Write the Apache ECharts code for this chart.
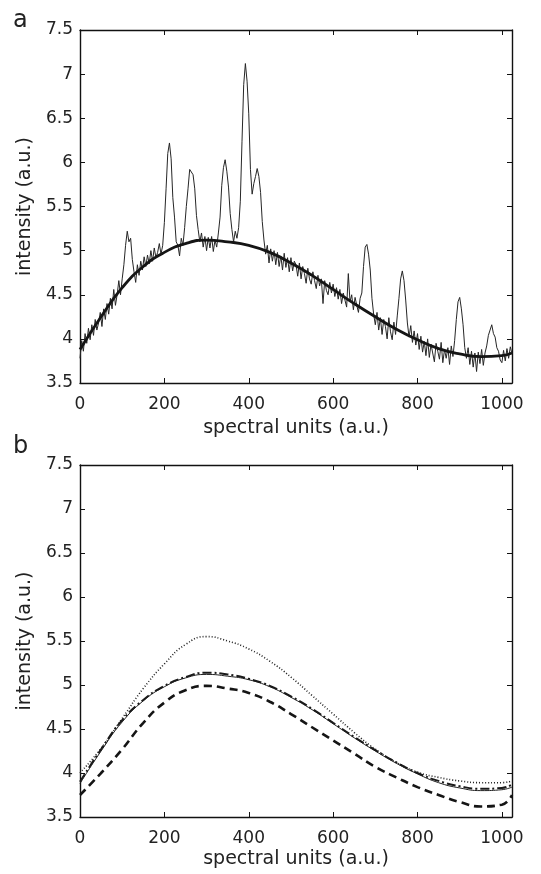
<!DOCTYPE html>
<html>
<head>
<meta charset="utf-8">
<script src="https://cdn.jsdelivr.net/npm/echarts@6.0.0/dist/echarts.min.js"></script>
<style>
  html, body { margin: 0; padding: 0; background: #ffffff; }
  #chart { width: 541px; height: 874px; }
</style>
</head>
<body>
<div id="chart"></div>
<script>
// ---------------- data ----------------
// panel a: measured spectrum, sampled every 4 spectral units (0 .. 1024)
const spectrumStep = 4;
const spectrumA = [
  3.78,3.98,3.86,4.06,3.95,4.12,3.99,4.16,4.04,4.22,4.10,4.18,4.30,4.14,4.34,4.22,4.40,4.28,4.46,4.34,4.56,4.38,4.50,4.66,4.50,
  4.68,4.84,5.06,5.22,5.10,5.14,4.90,4.76,4.64,4.84,4.72,4.88,4.78,4.93,4.82,4.95,4.85,5.00,4.88,5.03,4.92,4.98,5.08,4.96,5.06,
  5.32,5.70,6.10,6.22,6.04,5.60,5.38,5.10,5.06,4.94,5.14,5.06,5.26,5.50,5.70,5.92,5.94,5.86,5.70,5.40,5.24,5.10,5.20,5.04,5.16,
  5.00,5.15,5.03,5.16,4.99,5.12,5.04,5.20,5.38,5.74,5.94,6.03,5.90,5.72,5.42,5.24,5.10,5.22,5.14,5.26,5.56,6.24,6.88,7.12,6.92,
  6.55,5.92,5.64,5.76,5.84,5.93,5.84,5.66,5.33,5.12,4.96,5.06,4.86,5.02,4.88,5.00,4.84,4.98,4.82,4.94,4.78,4.97,4.81,4.92,4.76,
  4.92,4.77,4.88,4.84,4.71,4.86,4.68,4.82,4.74,4.63,4.80,4.68,4.62,4.76,4.66,4.57,4.72,4.60,4.68,4.40,4.66,4.55,4.50,4.64,4.52,
  4.62,4.48,4.58,4.45,4.56,4.40,4.52,4.44,4.36,4.74,4.42,4.50,4.33,4.47,4.38,4.30,4.46,4.52,4.82,5.04,5.07,4.96,4.78,4.46,4.28,
  4.16,4.30,4.10,4.24,4.05,4.22,4.14,4.00,4.24,4.08,3.99,4.19,4.05,4.26,4.46,4.68,4.77,4.66,4.44,4.18,4.02,4.15,3.96,4.09,3.93,
  4.06,3.88,4.03,3.85,3.97,3.81,4.00,3.79,3.94,3.84,3.74,3.95,3.86,3.77,3.96,3.73,3.88,3.78,3.90,3.71,3.92,3.80,3.98,4.22,4.42,
  4.47,4.34,4.16,3.90,3.78,3.90,3.71,3.86,3.68,3.84,3.63,3.85,3.72,3.88,3.70,3.84,3.92,4.04,4.10,4.16,4.06,4.02,3.90,3.86,3.76,
  3.73,3.87,3.75,3.89,3.78,3.91,3.83
];

// baseline curves, read at these spectral positions
const curveX = [0,50,100,150,200,250,300,350,400,450,500,550,600,650,700,750,800,850,900,950,1000,1024];
const baselineA  = [3.88,4.25,4.58,4.82,4.98,5.08,5.12,5.10,5.06,4.98,4.86,4.72,4.56,4.40,4.25,4.11,3.99,3.89,3.83,3.80,3.81,3.84];
const fitSolid   = [3.88,4.25,4.58,4.82,4.98,5.08,5.12,5.10,5.06,4.98,4.86,4.72,4.56,4.40,4.25,4.11,3.99,3.89,3.83,3.80,3.81,3.84];
const fitDotted  = [4.00,4.28,4.62,4.96,5.24,5.46,5.55,5.50,5.41,5.27,5.09,4.88,4.67,4.46,4.27,4.12,4.01,3.95,3.91,3.89,3.89,3.91];
const fitDashDot = [3.90,4.27,4.60,4.83,4.99,5.09,5.14,5.12,5.07,4.99,4.87,4.73,4.57,4.41,4.26,4.12,4.00,3.91,3.85,3.82,3.83,3.87];
const fitDashed  = [3.75,4.00,4.27,4.57,4.80,4.94,4.99,4.96,4.91,4.81,4.67,4.52,4.37,4.22,4.07,3.95,3.84,3.75,3.67,3.62,3.64,3.75];

// axes
const xMin = 0, xMax = 1024, xInterval = 200;
const yMin = 3.5, yMax = 7.5, yInterval = 0.5;
const xName = 'spectral units (a.u.)';
const yName = 'intensity (a.u.)';
const panelLabels = ['a', 'b'];

// ---------------- chart ----------------
const FONT = '"DejaVu Sans", "Liberation Sans", Arial, sans-serif';
const TXT = '#222222';
const AX = '#111111';

const spectrumPts = spectrumA.map((v, i) => [i * spectrumStep, v]);
const pairs = arr => curveX.map((x, i) => [x, arr[i]]);

function xAxes(grid, gap) {
  return [
    {
      gridIndex: grid, type: 'value', position: 'bottom', min: xMin, max: xMax, interval: xInterval,
      name: xName, nameLocation: 'middle', nameGap: gap,
      nameTextStyle: { fontFamily: FONT, fontSize: 19, color: TXT },
      axisLine: { show: true, onZero: false, lineStyle: { color: AX, width: 1.4 } },
      axisTick: { show: true, inside: true, length: 5, lineStyle: { color: AX, width: 1 } },
      axisLabel: { show: true, margin: 13, fontFamily: FONT, fontSize: 17, color: TXT,
        showMaxLabel: false, formatter: v => (v % xInterval === 0 ? String(v) : '') },
      splitLine: { show: false }
    },
    {
      gridIndex: grid, type: 'value', position: 'top', min: xMin, max: xMax, interval: xInterval,
      axisLine: { show: true, onZero: false, lineStyle: { color: AX, width: 1.4 } },
      axisTick: { show: true, inside: true, length: 5, lineStyle: { color: AX, width: 1 } },
      axisLabel: { show: false }, splitLine: { show: false }
    }
  ];
}
function yAxes(grid) {
  return [
    {
      gridIndex: grid, type: 'value', position: 'left', min: yMin, max: yMax, interval: yInterval,
      name: yName, nameLocation: 'middle', nameGap: 45,
      nameTextStyle: { fontFamily: FONT, fontSize: 19, color: TXT },
      axisLine: { show: true, onZero: false, lineStyle: { color: AX, width: 1.4 } },
      axisTick: { show: true, inside: true, length: 5, lineStyle: { color: AX, width: 1 } },
      axisLabel: { show: true, margin: 7, fontFamily: FONT, fontSize: 17, color: TXT },
      splitLine: { show: false }
    },
    {
      gridIndex: grid, type: 'value', position: 'right', min: yMin, max: yMax, interval: yInterval,
      axisLine: { show: true, onZero: false, lineStyle: { color: AX, width: 1.4 } },
      axisTick: { show: true, inside: true, length: 5, lineStyle: { color: AX, width: 1 } },
      axisLabel: { show: false }, splitLine: { show: false }
    }
  ];
}

function lineSeries(name, data, xi, yi, style, smooth, z) {
  return {
    name, type: 'line', xAxisIndex: xi, yAxisIndex: yi, data,
    showSymbol: false, symbol: 'none', smooth: smooth, silent: true, z: z,
    lineStyle: style, animation: false
  };
}

const chart = echarts.init(document.getElementById('chart'), null, { renderer: 'canvas' });
chart.setOption({
  animation: false,
  backgroundColor: '#ffffff',
  grid: [
    { left: 80, top: 30, width: 432, height: 353, containLabel: false },
    { left: 80, top: 465, width: 432, height: 352, containLabel: false }
  ],
  xAxis: [...xAxes(0, 36), ...xAxes(1, 33)],
  yAxis: [...yAxes(0), ...yAxes(1)],
  graphic: [
    { type: 'text', left: 13, top: 9, style: { text: panelLabels[0], font: '24px ' + FONT, fill: TXT } },
    { type: 'text', left: 13, top: 435, style: { text: panelLabels[1], font: '24px ' + FONT, fill: TXT } }
  ],
  series: [
    lineSeries('spectrum', spectrumPts, 0, 0, { color: '#262626', width: 1 }, false, 2),
    lineSeries('baseline', pairs(baselineA), 0, 0, { color: '#151515', width: 2.8 }, 0.5, 3),
    lineSeries('dotted', pairs(fitDotted), 2, 2, { color: '#222222', width: 1.6, type: [1, 2] }, 0.5, 2),
    lineSeries('solid', pairs(fitSolid), 2, 2, { color: '#222222', width: 1 }, 0.5, 2),
    lineSeries('dashdot', pairs(fitDashDot), 2, 2, { color: '#1a1a1a', width: 2, type: [9, 3, 2, 3] }, 0.5, 3),
    lineSeries('dashed', pairs(fitDashed), 2, 2, { color: '#151515', width: 2.6, type: [8, 5] }, 0.5, 3)
  ]
});
</script>
</body>
</html>
